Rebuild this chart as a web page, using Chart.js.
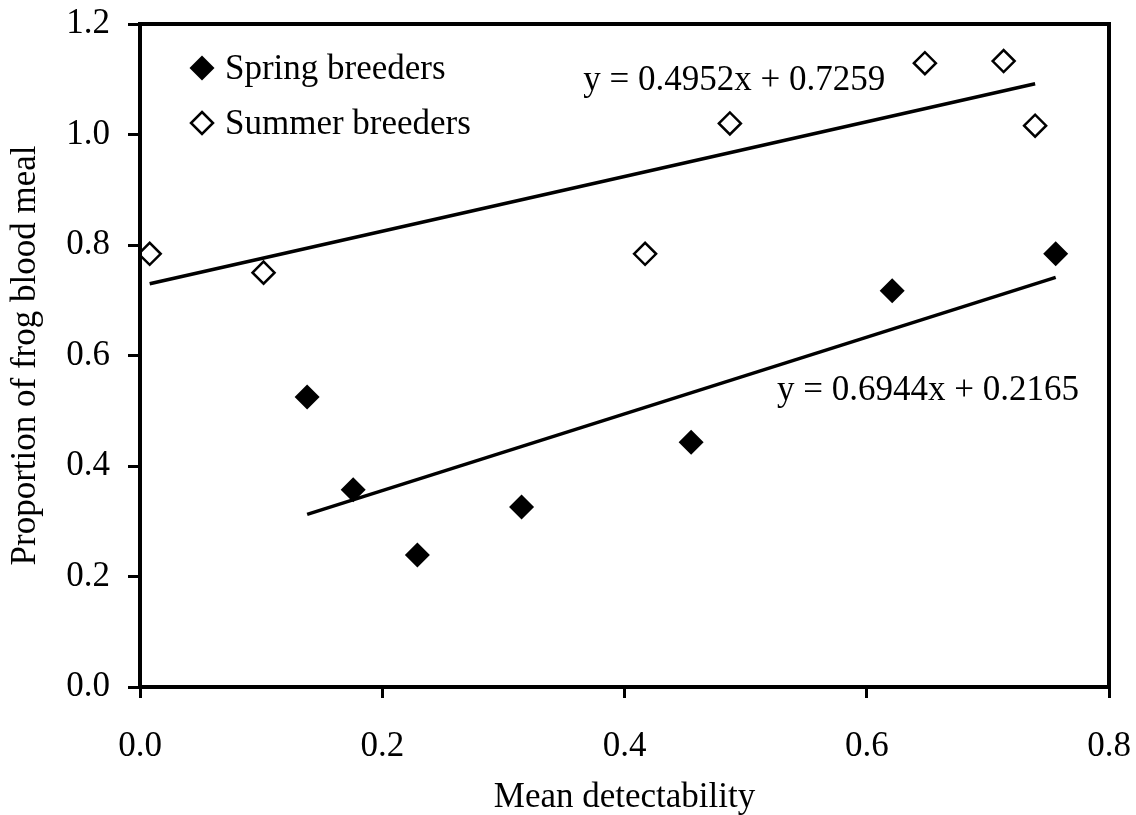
<!DOCTYPE html>
<html>
<head>
<meta charset="utf-8">
<title>Frog blood meal vs detectability</title>
<script src="https://cdn.jsdelivr.net/npm/chart.js@4/dist/chart.umd.min.js"></script>
<style>
  html, body { margin: 0; padding: 0; background: #fff; }
  #wrap { width: 1136px; height: 815px; }
</style>
</head>
<body>
<div id="wrap"><canvas id="chart" width="1136" height="815"></canvas></div>
<script>
// measured points
const springX = [0.138, 0.176, 0.229, 0.315, 0.455, 0.621, 0.756];
const springY = [0.525, 0.357, 0.239, 0.326, 0.443, 0.717, 0.784];
const summerX = [0.008, 0.102, 0.417, 0.487, 0.648, 0.713, 0.739];
const summerY = [0.784, 0.750, 0.784, 1.020, 1.129, 1.133, 1.016];

// fitted lines, as printed on the plot
const springFit = [0.6944, 0.2165];
const summerFit = [0.4952, 0.7259];

const seriesNames = ["Spring breeders", "Summer breeders"];
const xTickLabels = ["0.0", "0.2", "0.4", "0.6", "0.8"];
const yTickLabels = ["0.0", "0.2", "0.4", "0.6", "0.8", "1.0", "1.2"];

const FONT = "Liberation Serif";
const SIZE = 35;

function toPoints(xs, ys) {
  return xs.map((x, i) => ({ x: x, y: ys[i] }));
}

function fitLine(xs, fit) {
  const lo = Math.min(...xs);
  const hi = Math.max(...xs);
  return [
    { x: lo, y: fit[0] * lo + fit[1] },
    { x: hi, y: fit[0] * hi + fit[1] }
  ];
}

function eqText(fit) {
  return "y = " + fit[0].toFixed(4) + "x + " + fit[1].toFixed(4);
}

function diamond(ctx, x, y, r, filled) {
  ctx.beginPath();
  ctx.moveTo(x, y - r);
  ctx.lineTo(x + r, y);
  ctx.lineTo(x, y + r);
  ctx.lineTo(x - r, y);
  ctx.closePath();
  if (filled) {
    ctx.fillStyle = "#000";
    ctx.fill();
  } else {
    ctx.fillStyle = "#fff";
    ctx.fill();
    ctx.lineWidth = 2.5;
    ctx.strokeStyle = "#000";
    ctx.stroke();
  }
}

// frame, legend and equations
const annotations = {
  id: "annotations",
  afterDatasetsDraw(chart) {
    const ctx = chart.ctx;
    const area = chart.chartArea;
    const xs = chart.scales.x;
    const ys = chart.scales.y;

    ctx.save();
    ctx.lineWidth = 4;
    ctx.strokeStyle = "#000";
    ctx.strokeRect(area.left, area.top, area.right - area.left, area.bottom - area.top);

    ctx.font = SIZE + "px '" + FONT + "'";
    ctx.textAlign = "left";
    ctx.textBaseline = "alphabetic";

    // legend
    const lx = area.left + 62;
    diamond(ctx, lx, area.top + 44, 12.5, true);
    diamond(ctx, lx, area.top + 99, 11, false);
    ctx.fillStyle = "#000";
    ctx.fillText(seriesNames[0], lx + 23, area.top + 55);
    ctx.fillText(seriesNames[1], lx + 23, area.top + 110);

    // regression equations
    ctx.fillText(eqText(summerFit), xs.getPixelForValue(0.366), ys.getPixelForValue(1.0805));
    ctx.fillText(eqText(springFit), xs.getPixelForValue(0.526), ys.getPixelForValue(0.519));
    ctx.restore();
  }
};

const tickFont = { family: FONT, size: SIZE };

new Chart(document.getElementById("chart"), {
  type: "scatter",
  data: {
    datasets: [
      {
        label: seriesNames[0],
        data: toPoints(springX, springY),
        pointStyle: "rectRot",
        pointRadius: 12.5,
        backgroundColor: "#000",
        borderColor: "#000",
        borderWidth: 0
      },
      {
        label: seriesNames[1],
        data: toPoints(summerX, summerY),
        pointStyle: "rectRot",
        pointRadius: 11,
        backgroundColor: "#fff",
        borderColor: "#000",
        borderWidth: 2.5
      },
      {
        type: "line",
        data: fitLine(springX, springFit),
        borderColor: "#000",
        borderWidth: 3.5,
        pointRadius: 0,
        fill: false
      },
      {
        type: "line",
        data: fitLine(summerX, summerFit),
        borderColor: "#000",
        borderWidth: 3.5,
        pointRadius: 0,
        fill: false
      }
    ]
  },
  options: {
    responsive: false,
    animation: false,
    layout: { padding: { top: 24, right: 27, left: 0, bottom: 0 } },
    plugins: {
      legend: { display: false },
      tooltip: { enabled: false }
    },
    scales: {
      x: {
        type: "linear",
        min: 0,
        max: 0.8,
        afterFit(scale) {
          scale.height = 128;
          scale.paddingLeft = 0;
          scale.paddingRight = 0;
        },
        ticks: {
          stepSize: 0.2,
          color: "#000",
          font: tickFont,
          padding: 28,
          maxRotation: 0,
          callback: (v, i) => xTickLabels[i]
        },
        grid: {
          drawOnChartArea: false,
          tickLength: 11,
          tickWidth: 3,
          tickColor: "#000"
        },
        border: { display: true, color: "#000", width: 4 },
        title: {
          display: true,
          text: "Mean detectability",
          color: "#000",
          font: { family: FONT, size: SIZE, lineHeight: 1 },
          padding: { top: 0, bottom: 0 }
        }
      },
      y: {
        type: "linear",
        min: 0,
        max: 1.2,
        afterFit(scale) {
          scale.width = 140;
          scale.paddingTop = 0;
          scale.paddingBottom = 0;
        },
        ticks: {
          stepSize: 0.2,
          color: "#000",
          font: tickFont,
          padding: 18,
          callback: (v, i) => yTickLabels[i]
        },
        grid: {
          drawOnChartArea: false,
          tickLength: 12,
          tickWidth: 3,
          tickColor: "#000"
        },
        border: { display: true, color: "#000", width: 4 },
        title: {
          display: true,
          text: "Proportion of frog blood meal",
          color: "#000",
          font: { family: FONT, size: SIZE, lineHeight: 1 },
          padding: { top: 8, bottom: 0 }
        }
      }
    }
  },
  plugins: [annotations]
});
</script>
</body>
</html>
